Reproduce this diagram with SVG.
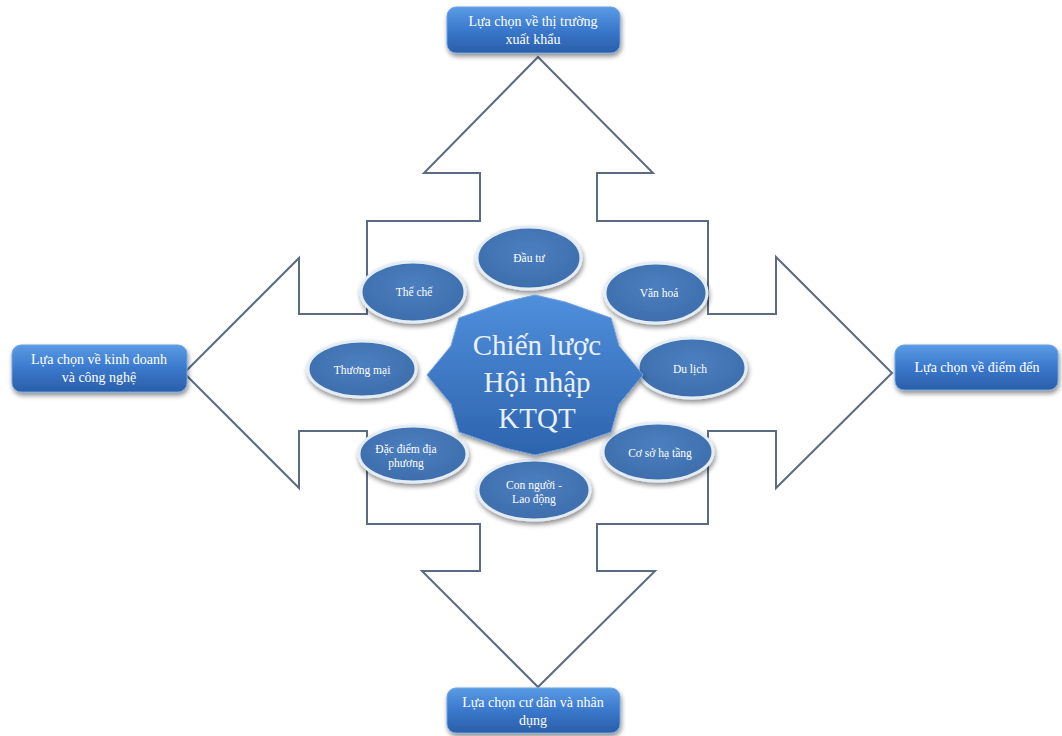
<svg xmlns="http://www.w3.org/2000/svg" width="1062" height="736" viewBox="0 0 1062 736">
  <defs>
    <linearGradient id="boxFill" x1="0" y1="0" x2="0" y2="1">
      <stop offset="0" stop-color="#5a9be4"/>
      <stop offset="0.5" stop-color="#3a78cc"/>
      <stop offset="1" stop-color="#2a5ea8"/>
    </linearGradient>
    <linearGradient id="starFill" x1="0" y1="0" x2="0" y2="1">
      <stop offset="0" stop-color="#4f8fdc"/>
      <stop offset="1" stop-color="#2d63ad"/>
    </linearGradient>
    <radialGradient id="ovalFill" cx="0.5" cy="0.4" r="0.6">
      <stop offset="0" stop-color="#4c7fc0"/>
      <stop offset="1" stop-color="#3d6dab"/>
    </radialGradient>
    <filter id="shadow" x="-20%" y="-20%" width="140%" height="150%">
      <feGaussianBlur in="SourceAlpha" stdDeviation="2.5"/>
      <feOffset dx="1" dy="3" result="b"/>
      <feComponentTransfer><feFuncA type="linear" slope="0.45"/></feComponentTransfer>
      <feMerge><feMergeNode/><feMergeNode in="SourceGraphic"/></feMerge>
    </filter>
  </defs>
  <style>
    .arrow { fill: #ffffff; stroke: #5b6b82; stroke-width: 2; stroke-linejoin: miter; }
    .box { fill: url(#boxFill); stroke: #6fa3e0; stroke-width: 1; filter: url(#shadow); }
    .boxText { font-family: "Liberation Serif", "DejaVu Serif", serif; font-size: 14px; fill: #ffffff; text-anchor: middle; }
    .oval { fill: url(#ovalFill); stroke: #e4ecf6; stroke-width: 3; filter: url(#shadow); }
    .ovalText { font-family: "Liberation Serif", "DejaVu Serif", serif; font-size: 11.5px; fill: #ffffff; text-anchor: middle; }
    .star { fill: url(#starFill); stroke: #6f9fdc; stroke-width: 1; filter: url(#shadow); }
    .starText { font-family: "Liberation Serif", "DejaVu Serif", serif; font-size: 29px; fill: #e9f0fa; text-anchor: middle; }
  </style>
  <rect width="1062" height="736" fill="#ffffff"/>

  <!-- four-way arrow outline -->
  <g id="connectors">
    <polygon class="arrow" points="538,57 653,173 597,173 597,221 708,221 708,314 776,314 776,257 892,373 776,488 776,431 708,431 708,524 597,524 597,571 655,571 538,687 422,571 480,571 480,524 367,524 367,431 299,431 299,488 184,373 299,258 299,314 367,314 367,221 480,221 480,173 424,173"/>
  </g>

  <!-- outer choice boxes -->
  <g id="box-top">
    <rect class="box" x="447" y="7" width="173" height="46" rx="9"/>
    <text class="boxText" x="533" y="26">Lựa chọn về thị trường</text>
    <text class="boxText" x="533" y="44">xuất khẩu</text>
  </g>
  <g id="box-left">
    <rect class="box" x="12" y="345" width="175" height="47" rx="9"/>
    <text class="boxText" x="99" y="364">Lựa chọn về kinh doanh</text>
    <text class="boxText" x="99" y="382">và công nghệ</text>
  </g>
  <g id="box-right">
    <rect class="box" x="895" y="345" width="163" height="45" rx="9"/>
    <text class="boxText" x="977" y="372">Lựa chọn về điểm đến</text>
  </g>
  <g id="box-bottom">
    <rect class="box" x="447" y="688" width="173" height="45" rx="9"/>
    <text class="boxText" x="533" y="707">Lựa chọn cư dân và nhân</text>
    <text class="boxText" x="533" y="725">dụng</text>
  </g>

  <!-- factor ovals -->
  <g id="dau-tu">
    <ellipse class="oval" cx="529" cy="258" rx="52" ry="31"/>
    <text class="ovalText" x="529" y="262">Đầu tư</text>
  </g>
  <g id="the-che">
    <ellipse class="oval" cx="413" cy="292" rx="52" ry="30"/>
    <text class="ovalText" x="414" y="296">Thể chế</text>
  </g>
  <g id="van-hoa">
    <ellipse class="oval" cx="656" cy="293" rx="51" ry="30"/>
    <text class="ovalText" x="659" y="297">Văn hoá</text>
  </g>
  <g id="thuong-mai">
    <ellipse class="oval" cx="362" cy="369" rx="54" ry="28"/>
    <text class="ovalText" x="362" y="374">Thương mại</text>
  </g>
  <g id="du-lich">
    <ellipse class="oval" cx="692" cy="368" rx="54" ry="30"/>
    <text class="ovalText" x="690" y="373">Du lịch</text>
  </g>
  <g id="dac-diem">
    <ellipse class="oval" cx="413" cy="454" rx="54" ry="28"/>
    <text class="ovalText" x="406" y="453">Đặc điểm địa</text>
    <text class="ovalText" x="406" y="467">phương</text>
  </g>
  <g id="con-nguoi">
    <ellipse class="oval" cx="534" cy="490" rx="56" ry="30"/>
    <text class="ovalText" x="534" y="489">Con người -</text>
    <text class="ovalText" x="534" y="503">Lao động</text>
  </g>
  <g id="co-so">
    <ellipse class="oval" cx="658" cy="452" rx="55" ry="29"/>
    <text class="ovalText" x="660" y="457">Cơ sở hạ tầng</text>
  </g>

  <!-- central strategy seal -->
  <g id="center">
    <polygon class="star" points="535,295 565,302 611,318 619,346 643,375 619,404 611,432 565,448 535,455 505,448 459,432 451,404 427,375 451,346 459,318 505,302"/>
    <text class="starText" x="537" y="355">Chiến lược</text>
    <text class="starText" x="537" y="392">Hội nhập</text>
    <text class="starText" x="537" y="428">KTQT</text>
  </g>
</svg>
